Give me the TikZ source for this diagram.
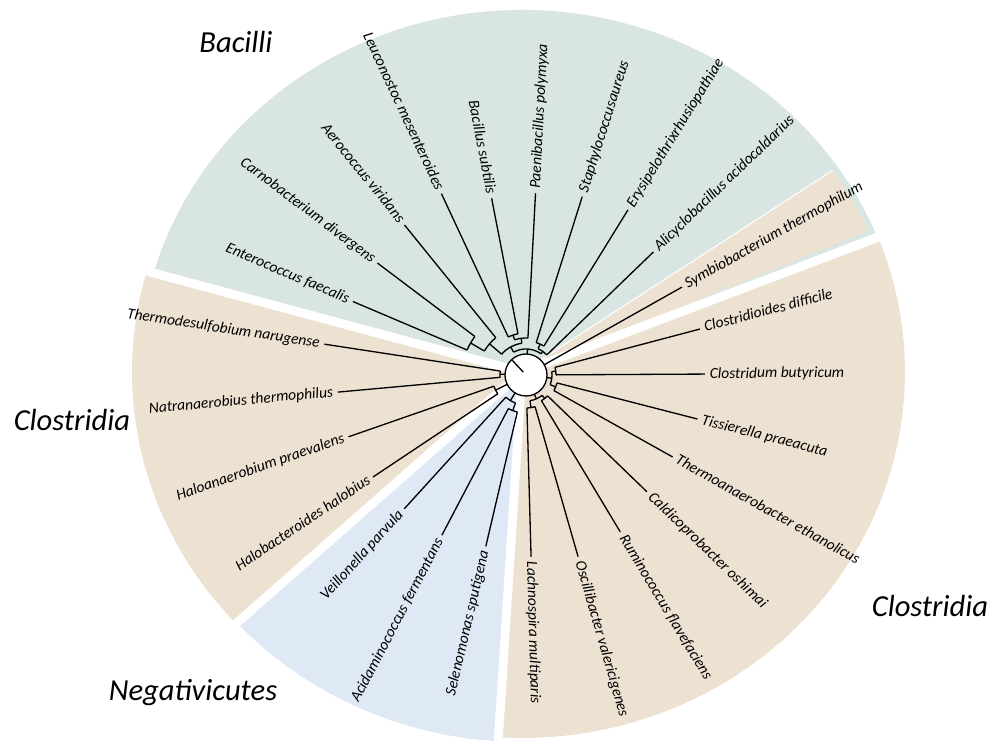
\documentclass[tikz,border=0pt]{standalone}
\usepackage{fontspec}
\setmainfont{Carlito}
\definecolor{bac}{RGB}{217,229,226}
\definecolor{clo}{RGB}{237,226,210}
\definecolor{neg}{RGB}{223,233,245}

\begin{document}
\begin{tikzpicture}[x=0.02cm,y=0.02cm,
	sp/.style={font=\fontsize{8.8}{10}\selectfont\itshape, inner sep=2.5pt},
	spR/.style={sp, anchor=mid west},
	spL/.style={sp, anchor=mid east},
	grp/.style={font=\fontsize{17.4}{20}\selectfont\itshape},
	br/.style={line width=0.75pt},
	gap/.style={white, line width=5pt}]
		
		\useasboundingbox (-526,-366) rectangle (475,375);
		
		% sectors
		\coordinate(s) at (-4,3);
		\fill[bac] (s) -- ++(22.6:383 and 362) arc[start angle=22.6, end angle=164.2, x radius=383, y radius=362] -- cycle;
		\fill[clo] (s) -- ++(164.2:390 and 370) arc[start angle=164.2, end angle=222.8, x radius=390, y radius=370] -- cycle;
		\fill[neg] (s) -- ++(222.8:388 and 370) arc[start angle=222.8, end angle=266.5, x radius=388, y radius=370] -- cycle;
		\fill[clo] (s) -- ++(266.5:383 and 366) arc[start angle=266.5, end angle=380.9, x radius=383, y radius=366] -- cycle;
		\fill[clo] (s) -- ++(23.4:377 and 356) arc[start angle=23.4, end angle=34.5, x radius=377, y radius=356] -- cycle;
		\draw[white, line width=0.6pt] (s) -- ++(34.5:377 and 356);
		\draw[gap] (s) -- ++(164.2:400 and 380);
		\draw[gap] (s) -- ++(222.8:400 and 380);
		\draw[gap] (s) -- ++(266.5:400 and 380);
		\draw[gap] (s) -- ++(21.7:400 and 380);
		
		% class names
		\node(bac) at (-290,333)[grp]{Bacilli};
		\node(clL) at (-454,-45)[grp]{Clostridia};
		\node(clR) at (404,-231)[grp]{Clostridia};
		\node(neg) at (-333,-318)[grp]{Negativicutes};
		
		% root
		\coordinate(c) at (0,0);
		\draw[br, fill=white] (c) circle (21);
		\draw[br] (133:20) -- (133:4);
		
		% species
		\node(1) at (157:188)[spL, rotate=-23]{Enterococcus faecalis};
		\node(2) at (143:186)[spL, rotate=-37]{Carnobacterium divergens};
		\node(3) at (129:193)[spL, rotate=-51]{Aerococcus viridans};
		\node(4) at (115:200)[spL, rotate=-65]{Leuconostoc mesenteroides};
		\node(5) at (101:180)[spL, rotate=-79]{Bacillus subtilis};
		\node(6) at (87:182)[spR, rotate=87]{Paenibacillus polymyxa};
		\node(7) at (72.5:187)[spR, rotate=72.5]{Staphylococcusaureus};
		\node(8) at (58.3:194)[spR, rotate=58.3]{Erysipelothrixrhusiopathiae};
		\node(9) at (44:177)[spR, rotate=44]{Alicyclobacillus acidocaldarius};
		\node(10) at (29.4:179)[spR, rotate=29.4]{Symbiobacterium thermophilum};
		\node(11) at (14.8:180)[spR, rotate=14.8]{Clostridioides difficile};
		\node(12) at (0.3:179)[spR, rotate=0.3]{Clostridum butyricum};
		\node(13) at (-14.4:177)[spR, rotate=-14.4]{Tissierella praeacuta};
		\node(14) at (-29.2:168)[spR, rotate=-29.2]{Thermoanaerobacter ethanolicus};
		\node(15) at (-44:168)[spR, rotate=-44]{Caldicoprobacter oshimai};
		\node(16) at (-59:183)[spR, rotate=-59]{Ruminococcus flavefaciens};
		\node(17) at (-74:189)[spR, rotate=-74]{Oscillibacter valericigenes};
		\node(18) at (-88.4:182)[spR, rotate=-88.4]{Lachnospira multiparis};
		\node(19) at (256.8:176)[spL, rotate=76.8]{Selenomonas sputigena};
		\node(20) at (242.3:181)[spL, rotate=62.3]{Acidaminococcus fermentans};
		\node(21) at (227.7:181)[spL, rotate=47.7]{Veillonella parvula};
		\node(22) at (213.7:184)[spL, rotate=33.7]{Halobacteroides halobius};
		\node(23) at (199.2:188)[spL, rotate=19.2]{Haloanaerobium praevalens};
		\node(24) at (185.2:189)[spL, rotate=5.2]{Natranaerobius thermophilus};
		\node(25) at (171.3:204)[spL, rotate=-8.7]{Thermodesulfobium narugense};
		
		% branches
		\draw[br] (157:64) -- (1.mid east);
		\draw[br] (143:64) -- (2.mid east);
		\draw[br] (129:48) -- (3.mid east);
		\draw[br] (115:42) -- (4.mid east);
		\draw[br] (101:42) -- (5.mid east);
		\draw[br] (87:37) -- (6.mid west);
		\draw[br] (72.5:34) -- (7.mid west);
		\draw[br] (58.3:34) -- (8.mid west);
		\draw[br] (44:29) -- (9.mid west);
		\draw[br] (29.4:21) -- (10.mid west);
		\draw[br] (14.8:30) -- (11.mid west);
		\draw[br] (0.3:30) -- (12.mid west);
		\draw[br] (-14.4:32) -- (13.mid west);
		\draw[br] (-29.2:32) -- (14.mid west);
		\draw[br] (-44:30) -- (15.mid west);
		\draw[br] (-59:30) -- (16.mid west);
		\draw[br] (-74:33) -- (17.mid west);
		\draw[br] (-88.4:33) -- (18.mid west);
		\draw[br] (256.8:38) -- (19.mid east);
		\draw[br] (242.3:38) -- (20.mid east);
		\draw[br] (227.7:30) -- (21.mid east);
		\draw[br] (213.7:34) -- (22.mid east);
		\draw[br] (199.2:34) -- (23.mid east);
		\draw[br] (185.2:26) -- (24.mid east);
		\draw[br] (171.3:26) -- (25.mid east);
		
		% inner clades
		\draw[br] (143:64) arc[start angle=143, end angle=157, radius=64];
		\draw[br] (150:64) -- (150:48);
		\draw[br] (129:48) arc[start angle=129, end angle=150, radius=48];
		\draw[br] (139.5:48) -- (139.5:32);
		\draw[br] (101:42) arc[start angle=101, end angle=115, radius=42];
		\draw[br] (108:42) -- (108:37);
		\draw[br] (87:37) arc[start angle=87, end angle=108, radius=37];
		\draw[br] (97.5:37) -- (97.5:32);
		\draw[br] (97.5:32) arc[start angle=97.5, end angle=139.5, radius=32];
		\draw[br] (118.5:32) -- (118.5:26);
		\draw[br] (58.3:34) arc[start angle=58.3, end angle=72.5, radius=34];
		\draw[br] (65.4:34) -- (65.4:29);
		\draw[br] (44:29) arc[start angle=44, end angle=65.4, radius=29];
		\draw[br] (54.7:29) -- (54.7:26);
		\draw[br] (54.7:26) arc[start angle=54.7, end angle=118.5, radius=26];
		\draw[br] (86.6:26) -- (86.6:21);
		\draw[br] (0.3:30) arc[start angle=0.3, end angle=14.8, radius=30];
		\draw[br] (7.5:30) -- (7.5:26);
		\draw[br] (-29.2:32) arc[start angle=-29.2, end angle=-14.4, radius=32];
		\draw[br] (-21.8:32) -- (-21.8:26);
		\draw[br] (-21.8:26) arc[start angle=-21.8, end angle=7.5, radius=26];
		\draw[br] (-7.2:26) -- (-7.2:21);
		\draw[br] (-59:30) arc[start angle=-59, end angle=-44, radius=30];
		\draw[br] (-51.5:30) -- (-51.5:26);
		\draw[br] (-88.4:33) arc[start angle=-88.4, end angle=-74, radius=33];
		\draw[br] (-81.2:33) -- (-81.2:26);
		\draw[br] (-81.2:26) arc[start angle=-81.2, end angle=-51.5, radius=26];
		\draw[br] (-66.4:26) -- (-66.4:21);
		\draw[br] (242.3:38) arc[start angle=242.3, end angle=256.8, radius=38];
		\draw[br] (249.5:38) -- (249.5:30);
		\draw[br] (227.7:30) arc[start angle=227.7, end angle=249.5, radius=30];
		\draw[br] (238.6:30) -- (238.6:21);
		\draw[br] (199.2:34) arc[start angle=199.2, end angle=213.7, radius=34];
		\draw[br] (206.5:34) -- (206.5:21);
		\draw[br] (171.3:26) arc[start angle=171.3, end angle=185.2, radius=26];
		\draw[br] (178.2:26) -- (178.2:21);
		
	\end{tikzpicture}
\end{document}
